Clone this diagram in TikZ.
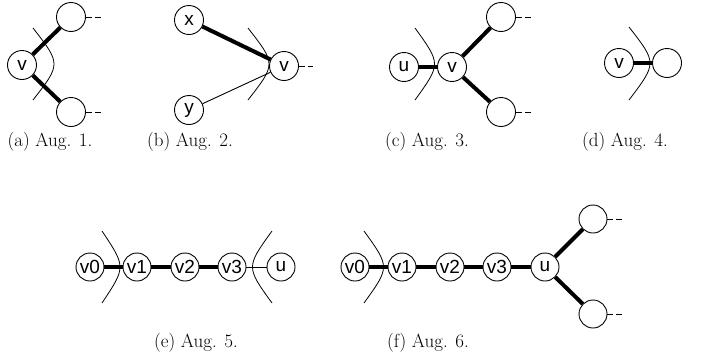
\documentclass[tikz,border=0pt]{standalone}
\usepackage{fontspec}
\setsansfont{Liberation Sans}
\begin{document}
\begin{tikzpicture}[x=1pt,y=-1pt,
  vtx/.style={draw,circle,line width=0.9pt,minimum size=29pt,inner sep=0pt,font=\sffamily\fontsize{19}{19}\selectfont},
  svtx/.style={vtx,minimum size=28pt},
  thick edge/.style={line width=4pt},
  thin edge/.style={line width=0.9pt},
  stub/.style={line width=0.9pt,dash pattern=on 6pt off 3pt},
  cut/.style={line width=0.8pt},
  captext/.style={font=\fontsize{19}{22}\selectfont}]
\useasboundingbox (0,0) rectangle (725,362);
% (a)
\node[vtx] (av) at (22,65) {v};
\node[vtx] (aa) at (71,17) {};
\node[vtx] (ab) at (71,112) {};
\draw[thick edge] (av) -- (aa);
\draw[thick edge] (av) -- (ab);
\coordinate (aas) at (101,17); \coordinate (abs) at (101,112);
\draw[stub] (aa.east) -- (aas);
\draw[stub] (ab.east) -- (abs);
\draw[cut] (33,28) .. controls (61,64) .. (33,100);
\node[captext] (capa) at (50,142) {(a) Aug. 1.};
% (b)
\node[vtx] (bx) at (189,20) {x};
\node[vtx] (bv) at (284,66) {v};
\node[vtx] (by) at (189,110) {y};
\draw[thick edge] (bx) -- (bv);
\draw[thin edge] (by) -- (bv);
\coordinate (bvs) at (313,66);
\draw[stub] (bv.east) -- (bvs);
\draw[cut] (248,28) .. controls (276,64) .. (248,100);
\node[captext] (capb) at (190,142) {(b) Aug. 2.};
% (c)
\node[vtx] (cu) at (404,67) {u};
\node[vtx] (cv) at (452,67) {v};
\node[vtx] (ca) at (501,17) {};
\node[vtx] (cb) at (501,112) {};
\draw[thick edge] (cu) -- (cv);
\draw[thick edge] (cv) -- (ca);
\draw[thick edge] (cv) -- (cb);
\coordinate (cas) at (531,17); \coordinate (cbs) at (531,112);
\draw[stub] (ca.east) -- (cas);
\draw[stub] (cb.east) -- (cbs);
\draw[cut] (415,28) .. controls (441,64) .. (415,100);
\node[captext] (capc) at (427,142) {(c) Aug. 3.};
% (d)
\node[vtx] (dv) at (619,63) {v};
\node[vtx] (dw) at (667,63) {};
\draw[thick edge] (dv) -- (dw);
\draw[cut] (629,27) .. controls (657,63) .. (629,100);
\node[captext] (capd) at (625,142) {(d) Aug. 4.};
% (e)
\node[svtx] (e0) at (90,267) {v0};
\node[svtx] (e1) at (137,267) {v1};
\node[svtx] (e2) at (185,267) {v2};
\node[svtx] (e3) at (232,267) {v3};
\node[svtx] (eu) at (281,267) {u};
\draw[thick edge] (e0) -- (e1);
\draw[thick edge] (e1) -- (e2);
\draw[thick edge] (e2) -- (e3);
\draw[thin edge] (e3) -- (eu);
\draw[cut] (102,231) .. controls (126,267) .. (102,303);
\draw[cut] (272,231) .. controls (246,267) .. (272,303);
\node[captext] (cape) at (196,343) {(e) Aug. 5.};
% (f)
\node[svtx] (f0) at (355,267) {v0};
\node[svtx] (f1) at (402,267) {v1};
\node[svtx] (f2) at (450,267) {v2};
\node[svtx] (f3) at (497,267) {v3};
\node[svtx] (fu) at (545,267) {u};
\node[svtx] (fa) at (593,219) {};
\node[svtx] (fb) at (593,314) {};
\draw[thick edge] (f0) -- (f1);
\draw[thick edge] (f1) -- (f2);
\draw[thick edge] (f2) -- (f3);
\draw[thick edge] (f3) -- (fu);
\draw[thick edge] (fu) -- (fa);
\draw[thick edge] (fu) -- (fb);
\coordinate (fas) at (622,219); \coordinate (fbs) at (622,314);
\draw[stub] (fa.east) -- (fas);
\draw[stub] (fb.east) -- (fbs);
\draw[cut] (364,231) .. controls (390,267) .. (364,303);
\node[captext] (capf) at (428,343) {(f) Aug. 6.};
\end{tikzpicture}
\end{document}
